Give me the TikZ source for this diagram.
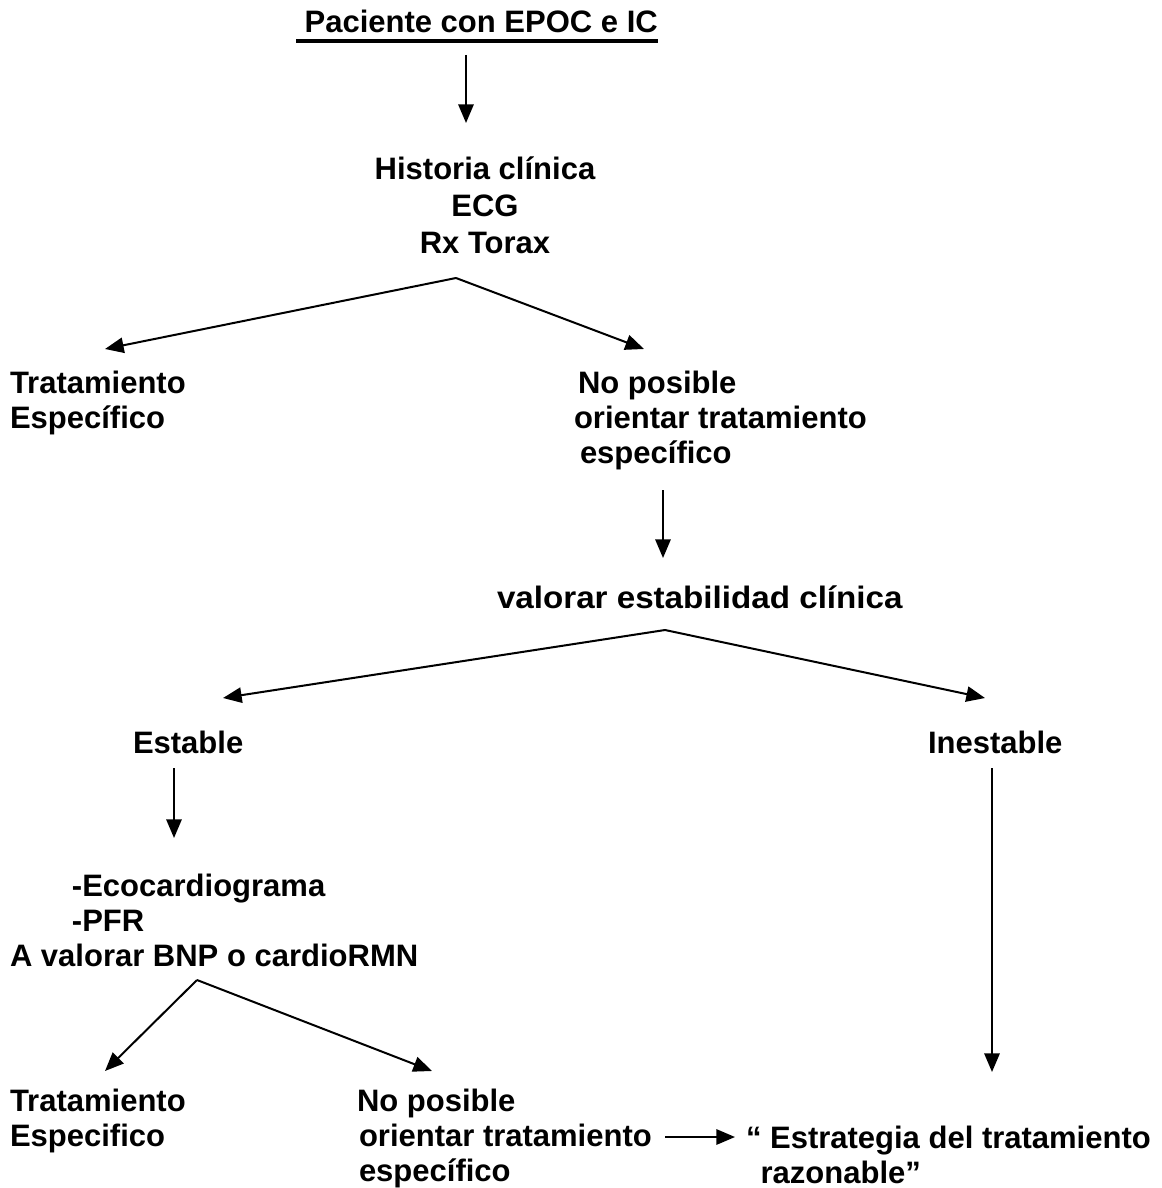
\documentclass[tikz,border=0pt]{standalone}
\usepackage{fontspec}
\setmainfont{Liberation Sans}
\usetikzlibrary{arrows.meta,calc}
\newcommand{\mlines}[2][l]{\begin{tabular}[t]{@{}#1@{}}#2\end{tabular}}
\begin{document}
\begin{tikzpicture}[x=0.75pt,y=-0.75pt,
  txt/.style={inner sep=0pt, outer sep=0pt, anchor=base west,
    font=\fontsize{23.25}{26.25}\selectfont\bfseries},
  arr/.style={line width=1.5pt, -{Triangle[length=14pt,width=11.5pt]}}]
\useasboundingbox (0,0) rectangle (1161,1188);

% nodes
\node[txt] (title) at (296,33) {\ Paciente con EPOC e IC};
\node[txt, anchor=base] (hist) at (485,179) {\mlines[c]{Historia clínica\\[1.5pt] ECG\\[1.5pt] Rx Torax}};
\node[txt] (trat1) at (10,393) {\mlines{Tratamiento\\Específico}};
\node[txt] (nopos1) at (574,393) {\mlines{\hspace*{3pt}No posible\\orientar tratamiento\\\hspace*{4.5pt}específico}};
\node[txt] (valorar) at (497,608) {\addfontfeature{FakeStretch=1.07}valorar estabilidad clínica};
\node[txt] (estable) at (133,753) {Estable};
\node[txt] (inestable) at (928,753) {Inestable};
\node[txt] (eco) at (10,896) {\mlines{\hspace*{46.5pt}-Ecocardiograma\\\hspace*{46.5pt}-PFR\\A valorar BNP o cardioRMN}};
\node[txt] (trat2) at (10,1111) {\mlines{Tratamiento\\Especifico}};
\node[txt] (nopos2) at (357,1111) {\mlines{No posible\\\hspace*{1.5pt}orientar tratamiento\\\hspace*{1.5pt}específico}};
\node[txt] (estr) at (746,1148) {\mlines{“ Estrategia del tratamiento\\\hspace*{11pt}razonable”}};

% underline of title
\draw[line width=2.6pt] ($(title.base west)+(0,8)$) -- ($(title.base east)+(0,8)$);

% connectors
\draw[arr] ($(title.base west)+(170,22)$) -- ($(hist.base)+(-19,-56)$);

\coordinate (apex1) at ($(hist.base)+(-29,99)$);
\draw[arr] (apex1) -- ($(trat1.base west)+(95,-44)$);
\draw[arr] (apex1) -- ($(nopos1.base west)+(70,-44)$);

\draw[arr] ($(nopos1.base west)+(89,97)$) -- ($(valorar.base west)+(166,-50)$);

\coordinate (apex2) at ($(valorar.base west)+(168,22)$);
\draw[arr] (apex2) -- ($(estable.base west)+(90,-55)$);
\draw[arr] (apex2) -- ($(inestable.base west)+(57,-55)$);

\draw[arr] ($(estable.base west)+(41,15)$) -- ($(eco.base west)+(164,-58)$);
\draw[arr] ($(inestable.base west)+(64,15)$) -- ($(estr.base west)+(246,-76)$);

\coordinate (apex3) at ($(eco.base west)+(187,84)$);
\draw[arr] (apex3) -- ($(trat2.base west)+(95,-40)$);
\draw[arr] (apex3) -- ($(nopos2.base west)+(75,-40)$);

\draw[arr] ($(nopos2.base west)+(308,26)$) -- ($(estr.base west)+(-11,-11)$);
\end{tikzpicture}
\end{document}
